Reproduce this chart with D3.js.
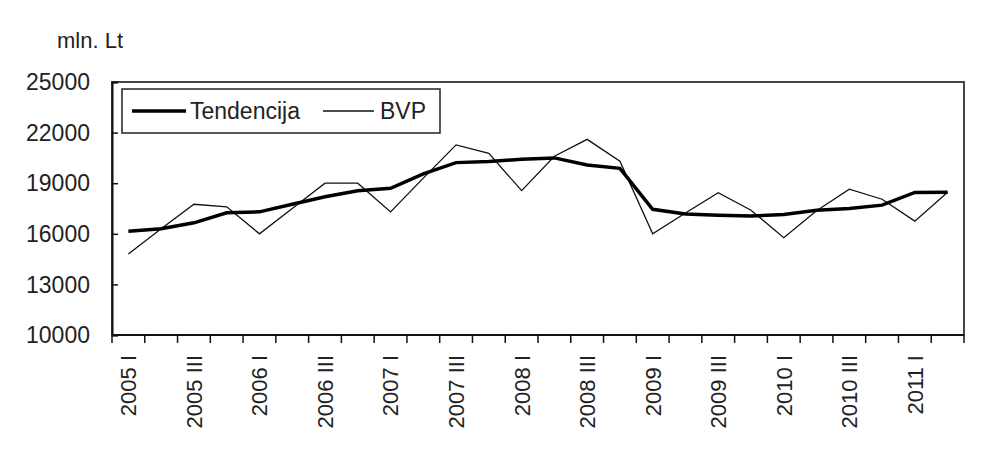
<!DOCTYPE html>
<html>
<head>
<meta charset="utf-8">
<script src="https://cdn.jsdelivr.net/npm/d3@7"></script>
<style>
  body { margin: 0; background: #fff; }
  svg text { font-family: "Liberation Sans", Arial, sans-serif; fill: #222; }
</style>
</head>
<body>
<svg id="chart" width="994" height="450"></svg>
<script>
// ketvirčiai 2005 I - 2011 II
var years = [2005, 2006, 2007, 2008, 2009, 2010, 2011]
var quarterNames = ["I", "II", "III", "IV"]
var quarters = []
years.forEach(function(y) {
  quarterNames.forEach(function(q) { quarters.push(y + " " + q) })
})
quarters = quarters.slice(0, 26)

var bvp = [14800, 16300, 17750, 17600, 16000, 17500, 19000, 19000, 17300, 19300,
           21270, 20770, 18560, 20600, 21600, 20300, 16000, 17230, 18440, 17400,
           15770, 17370, 18650, 18050, 16750, 18460]
var tendencija = [16150, 16300, 16650, 17250, 17300, 17750, 18200, 18550, 18700, 19550,
                  20220, 20280, 20420, 20500, 20080, 19880, 17450, 17170, 17100, 17050,
                  17150, 17400, 17500, 17700, 18450, 18460]
var yTicks = [10000, 13000, 16000, 19000, 22000, 25000]

var svg = d3.select("#chart")
var pLeft = 112, pRight = 964, pTop = 82, pBottom = 335

var x = d3.scaleBand().domain(quarters).range([pLeft, pRight]).padding(0)
var y = d3.scaleLinear().domain([10000, 25000]).range([pBottom, pTop])
var cx = function(d, i) { return x(quarters[i]) + x.bandwidth() / 2 }

// remelis
svg.append("rect")
  .attr("x", pLeft).attr("y", pTop)
  .attr("width", pRight - pLeft).attr("height", pBottom - pTop)
  .attr("fill", "none").attr("stroke", "#444").attr("stroke-width", 2)

// y asis
svg.append("g")
  .attr("transform", "translate(" + pLeft + ",0)")
  .call(d3.axisRight(y).tickValues(yTicks).tickSize(6).tickFormat(""))
  .call(function(g) { g.select(".domain").attr("stroke", "#111").attr("stroke-width", 2) })
  .selectAll("line").attr("stroke", "#111").attr("stroke-width", 1.5)

svg.append("g").selectAll("text")
  .data(yTicks).enter().append("text")
  .attr("x", 90).attr("y", function(d) { return y(d) })
  .attr("dy", "0.36em")
  .attr("text-anchor", "end")
  .style("font-size", "23px")
  .text(function(d) { return d })

// x asis - bruksneliai ties ketvirciu ribomis
var edges = quarters.map(function(q) { return x(q) }).concat([pRight])
svg.append("line")
  .attr("x1", pLeft).attr("x2", pRight).attr("y1", pBottom).attr("y2", pBottom)
  .attr("stroke", "#111").attr("stroke-width", 2)
svg.append("g").selectAll("line")
  .data(edges).enter().append("line")
  .attr("x1", function(d) { return d }).attr("x2", function(d) { return d })
  .attr("y1", pBottom).attr("y2", pBottom + 8)
  .attr("stroke", "#111").attr("stroke-width", 1.5)

svg.append("g").selectAll("text")
  .data(quarters.filter(function(q, i) { return i % 2 == 0 })).enter().append("text")
  .attr("transform", function(d) {
    return "translate(" + (x(d) + x.bandwidth() / 2) + "," + (pBottom + 20) + ") rotate(-90)"
  })
  .attr("dy", "0.36em")
  .attr("text-anchor", "end")
  .style("font-size", "22px")
  .text(function(d) { return d })

svg.append("text")
  .attr("x", 57).attr("y", 48)
  .style("font-size", "22px")
  .text("mln. Lt")

var line = d3.line().x(cx).y(function(d) { return y(d) })

svg.append("path").datum(bvp)
  .attr("d", line)
  .attr("fill", "none").attr("stroke", "#111").attr("stroke-width", 1.3)

svg.append("path").datum(tendencija)
  .attr("d", line)
  .attr("fill", "none").attr("stroke", "#000").attr("stroke-width", 3.5)

// legenda
var lg = svg.append("g")
lg.append("rect")
  .attr("x", 122).attr("y", 89).attr("width", 318).attr("height", 44)
  .attr("fill", "#fff").attr("stroke", "#222").attr("stroke-width", 1.5)
lg.append("line").attr("x1", 132).attr("x2", 186).attr("y1", 111).attr("y2", 111)
  .attr("stroke", "#000").attr("stroke-width", 3.5)
lg.append("text").attr("x", 190).attr("y", 111).attr("dy", "0.36em")
  .style("font-size", "23px").text("Tendencija")
lg.append("line").attr("x1", 323).attr("x2", 374).attr("y1", 111).attr("y2", 111)
  .attr("stroke", "#111").attr("stroke-width", 1.3)
lg.append("text").attr("x", 380).attr("y", 111).attr("dy", "0.36em")
  .style("font-size", "23px").text("BVP")
</script>
</body>
</html>
